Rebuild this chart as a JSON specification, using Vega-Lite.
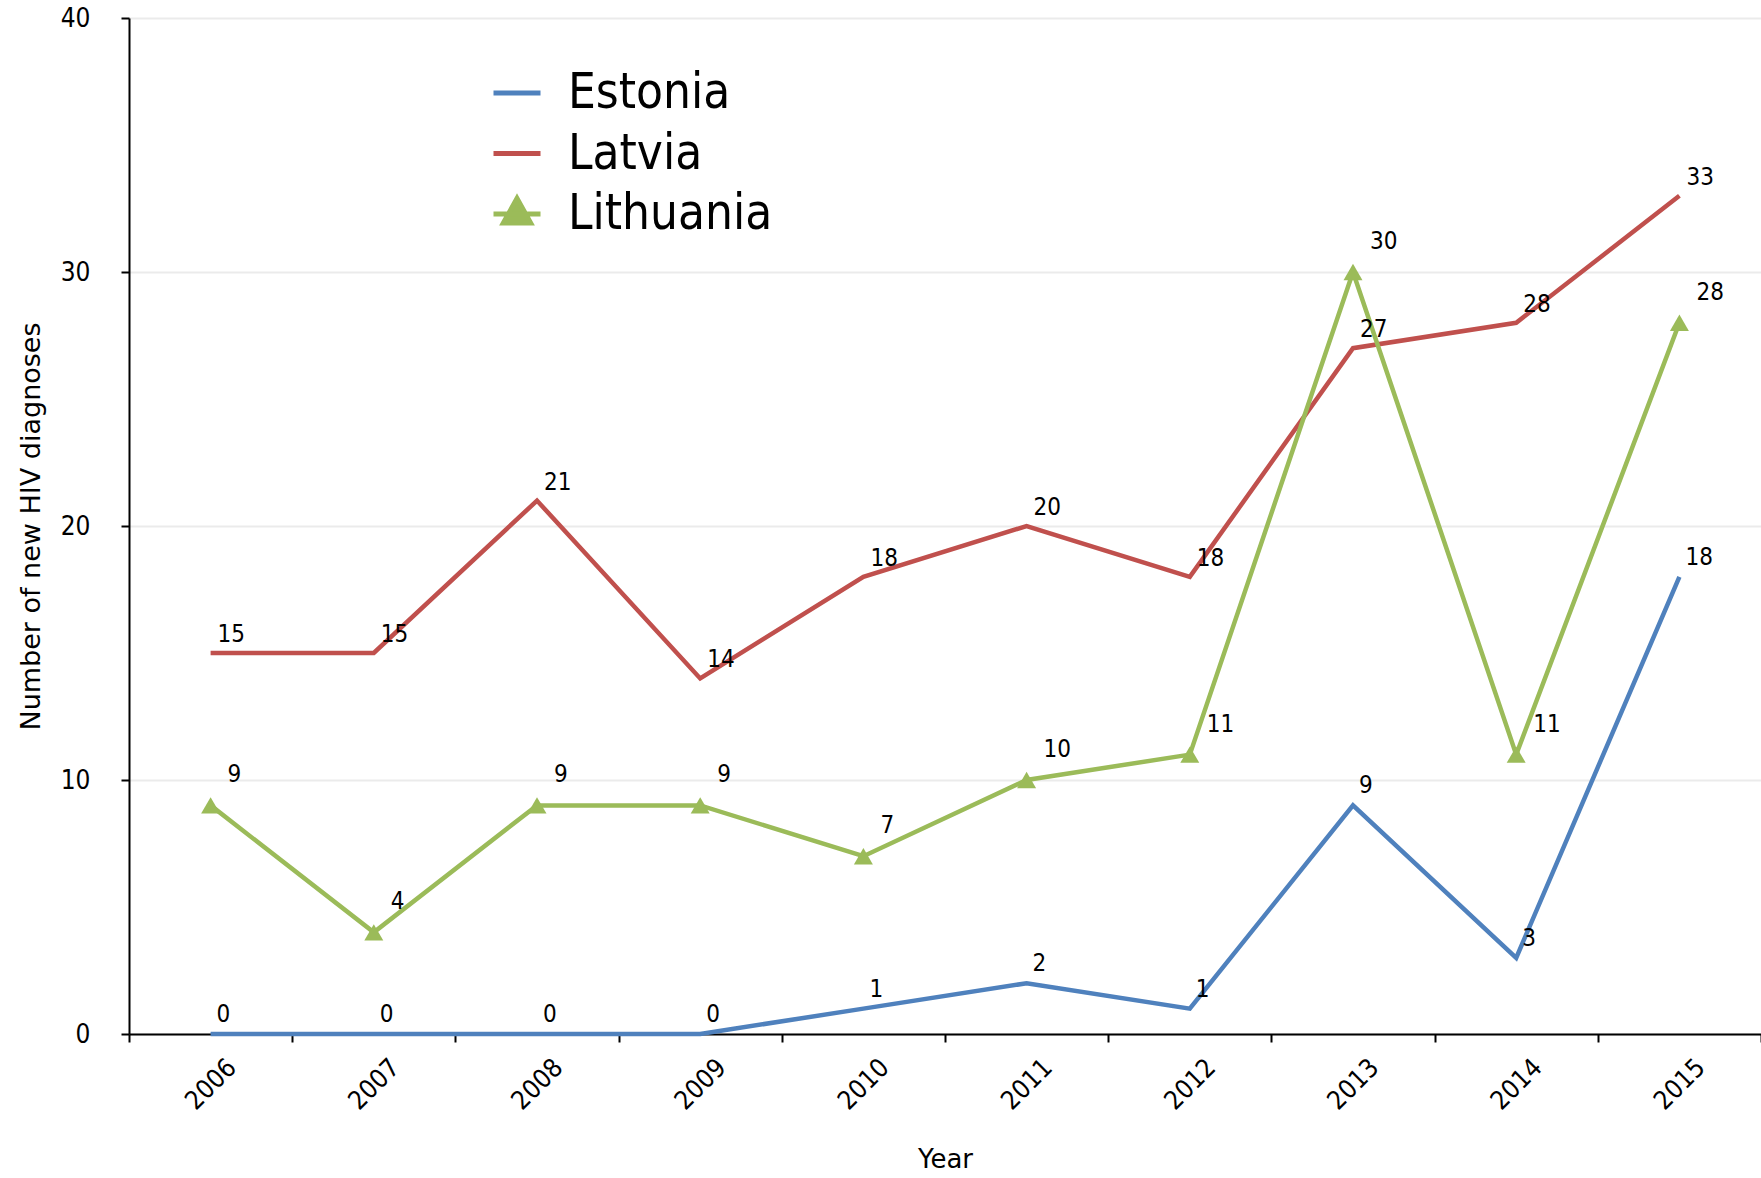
{
  "$schema": "https://vega.github.io/schema/vega-lite/v6.json",
  "width": 1632,
  "height": 1016,
  "autosize": {"type": "none"},
  "padding": {"left": 129, "top": 18, "right": 0, "bottom": 144},
  "background": "white",
  "config": {"view": {"stroke": null}},
  "data": {
    "values": [
      {"year": "2006", "country": "Estonia", "value": 0},
      {"year": "2007", "country": "Estonia", "value": 0},
      {"year": "2008", "country": "Estonia", "value": 0},
      {"year": "2009", "country": "Estonia", "value": 0},
      {"year": "2010", "country": "Estonia", "value": 1},
      {"year": "2011", "country": "Estonia", "value": 2},
      {"year": "2012", "country": "Estonia", "value": 1},
      {"year": "2013", "country": "Estonia", "value": 9},
      {"year": "2014", "country": "Estonia", "value": 3},
      {"year": "2015", "country": "Estonia", "value": 18},
      {"year": "2006", "country": "Latvia", "value": 15},
      {"year": "2007", "country": "Latvia", "value": 15},
      {"year": "2008", "country": "Latvia", "value": 21},
      {"year": "2009", "country": "Latvia", "value": 14},
      {"year": "2010", "country": "Latvia", "value": 18},
      {"year": "2011", "country": "Latvia", "value": 20},
      {"year": "2012", "country": "Latvia", "value": 18},
      {"year": "2013", "country": "Latvia", "value": 27},
      {"year": "2014", "country": "Latvia", "value": 28},
      {"year": "2015", "country": "Latvia", "value": 33},
      {"year": "2006", "country": "Lithuania", "value": 9},
      {"year": "2007", "country": "Lithuania", "value": 4},
      {"year": "2008", "country": "Lithuania", "value": 9},
      {"year": "2009", "country": "Lithuania", "value": 9},
      {"year": "2010", "country": "Lithuania", "value": 7},
      {"year": "2011", "country": "Lithuania", "value": 10},
      {"year": "2012", "country": "Lithuania", "value": 11},
      {"year": "2013", "country": "Lithuania", "value": 30},
      {"year": "2014", "country": "Lithuania", "value": 11},
      {"year": "2015", "country": "Lithuania", "value": 28}
    ]
  },
  "encoding": {
    "x": {
      "field": "year",
      "type": "ordinal",
      "bandPosition": 0.5,
      "scale": {"type": "band", "paddingInner": 0, "paddingOuter": 0},
      "axis": {
        "title": "Year",
        "labelAngle": -45,
        "labelAlign": "center",
        "labelBaseline": "middle",
        "labelPadding": 42,
        "labelOverlap": false,
        "labelFont": "DejaVu Sans Condensed, DejaVu Sans",
        "labelFontSize": 26,
        "labelColor": "black",
        "tickBand": "extent",
        "tickSize": 8,
        "tickWidth": 2,
        "tickColor": "black",
        "domainColor": "black",
        "domainWidth": 2,
        "grid": false,
        "titleFont": "DejaVu Sans",
        "titleFontSize": 26,
        "titleFontWeight": "normal",
        "titleColor": "black",
        "titlePadding": 32
      }
    },
    "y": {
      "field": "value",
      "type": "quantitative",
      "scale": {"domain": [0, 40], "nice": false},
      "axis": {
        "title": "Number of new HIV diagnoses",
        "values": [0, 10, 20, 30, 40],
        "grid": true,
        "gridColor": "#ebebeb",
        "gridWidth": 2,
        "tickSize": 8,
        "tickWidth": 2,
        "tickColor": "black",
        "domainColor": "black",
        "domainWidth": 2,
        "labelPadding": 31,
        "labelFont": "DejaVu Sans Condensed, DejaVu Sans",
        "labelFontSize": 26,
        "labelColor": "black",
        "titleFont": "DejaVu Sans",
        "titleFontSize": 27,
        "titleFontWeight": "normal",
        "titleColor": "black",
        "titlePadding": 15
      }
    }
  },
  "layer": [
    {
      "mark": {"type": "line", "strokeWidth": 4.5},
      "encoding": {
        "color": {
          "field": "country",
          "type": "nominal",
          "scale": {"domain": ["Estonia", "Latvia", "Lithuania"], "range": ["#4f81bd", "#c0504d", "#9bbb59"]},
          "legend": {
            "title": null,
            "orient": "none",
            "legendX": 362,
            "legendY": 49,
            "padding": 0,
            "symbolSize": 2209,
            "symbolStrokeWidth": 5,
            "labelFont": "DejaVu Sans Condensed, DejaVu Sans",
            "labelFontSize": 49,
            "labelColor": "black",
            "labelLimit": 0,
            "labelOffset": 25,
            "rowPadding": 9.5,
            "encode": {
              "symbols": {
                "update": {
                  "shape": {"signal": "datum.value === 'Lithuania' ? 'M-1,0H1M-0.58,0.38L0,-0.66L0.58,0.38Z' : 'M-1,0H1'"},
                  "fill": {"signal": "datum.value === 'Lithuania' ? '#9bbb59' : 'transparent'"}
                }
              }
            }
          }
        }
      }
    },
    {
      "transform": [{"filter": "datum.country === 'Lithuania'"}],
      "mark": {"type": "point", "shape": "triangle-up", "filled": true, "size": 360, "opacity": 1, "color": "#9bbb59"}
    },
    {
      "transform": [{"filter": "datum.country === 'Estonia'"}],
      "mark": {"type": "text", "align": "left", "baseline": "middle", "dx": 6, "dy": -19, "font": "DejaVu Sans Condensed, DejaVu Sans", "fontSize": 24, "color": "black"},
      "encoding": {"text": {"field": "value", "type": "quantitative"}}
    },
    {
      "transform": [{"filter": "datum.country === 'Latvia'"}],
      "mark": {"type": "text", "align": "left", "baseline": "middle", "dx": 7, "dy": -18, "font": "DejaVu Sans Condensed, DejaVu Sans", "fontSize": 24, "color": "black"},
      "encoding": {"text": {"field": "value", "type": "quantitative"}}
    },
    {
      "transform": [{"filter": "datum.country === 'Lithuania'"}],
      "mark": {"type": "text", "align": "left", "baseline": "middle", "dx": 17, "dy": -30, "font": "DejaVu Sans Condensed, DejaVu Sans", "fontSize": 24, "color": "black"},
      "encoding": {"text": {"field": "value", "type": "quantitative"}}
    }
  ]
}
